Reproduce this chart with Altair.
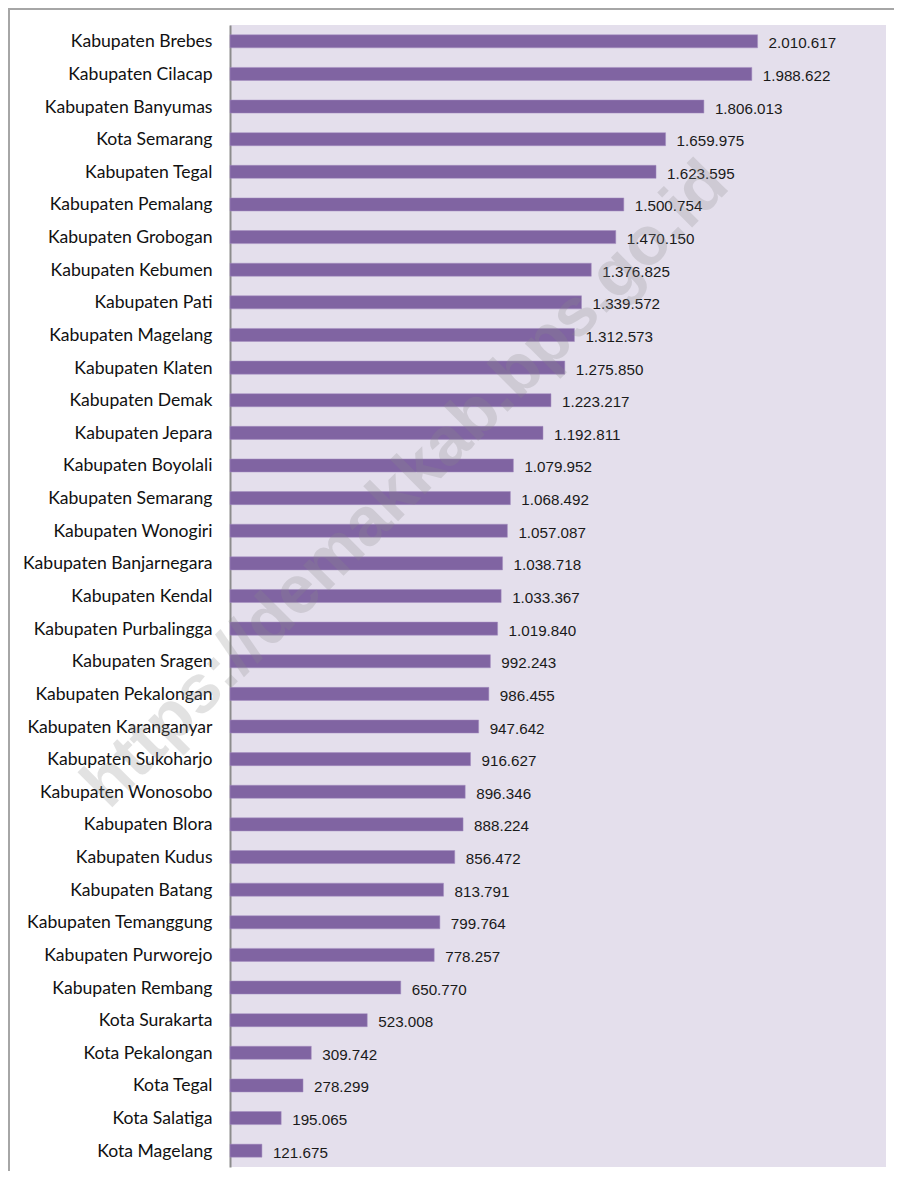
import altair as alt
import pandas as pd

regions = [
    "Kabupaten Brebes", "Kabupaten Cilacap", "Kabupaten Banyumas", "Kota Semarang",
    "Kabupaten Tegal", "Kabupaten Pemalang", "Kabupaten Grobogan", "Kabupaten Kebumen",
    "Kabupaten Pati", "Kabupaten Magelang", "Kabupaten Klaten", "Kabupaten Demak",
    "Kabupaten Jepara", "Kabupaten Boyolali", "Kabupaten Semarang", "Kabupaten Wonogiri",
    "Kabupaten Banjarnegara", "Kabupaten Kendal", "Kabupaten Purbalingga", "Kabupaten Sragen",
    "Kabupaten Pekalongan", "Kabupaten Karanganyar", "Kabupaten Sukoharjo", "Kabupaten Wonosobo",
    "Kabupaten Blora", "Kabupaten Kudus", "Kabupaten Batang", "Kabupaten Temanggung",
    "Kabupaten Purworejo", "Kabupaten Rembang", "Kota Surakarta", "Kota Pekalongan",
    "Kota Tegal", "Kota Salatiga", "Kota Magelang",
]
population = [
    2010617, 1988622, 1806013, 1659975,
    1623595, 1500754, 1470150, 1376825,
    1339572, 1312573, 1275850, 1223217,
    1192811, 1079952, 1068492, 1057087,
    1038718, 1033367, 1019840, 992243,
    986455, 947642, 916627, 896346,
    888224, 856472, 813791, 799764,
    778257, 650770, 523008, 309742,
    278299, 195065, 121675,
]
watermark = ["https://demakkab.bps.go.id"]

df = pd.DataFrame({"region": regions, "pop": population})
df["label"] = [f"{v:,}".replace(",", ".") for v in population]

W, H = 656, 1142

y_enc = alt.Y(
    "region:N", sort=regions, title=None,
    scale=alt.Scale(paddingInner=0.6, paddingOuter=0.3),
    axis=alt.Axis(
        domain=True, domainColor="#8c8c8c", domainWidth=2, ticks=False,
        labelFont="Lato", labelFontSize=17.6, labelColor="#111111",
        labelPadding=18, labelLimit=300, labelOffset=1,
    ),
)
x_enc = alt.X(
    "pop:Q", title=None,
    scale=alt.Scale(domain=[0, 2500000], nice=False),
    axis=None,
)

bars = alt.Chart(df).mark_bar(color="#8064A2", stroke="#a48fc0", strokeWidth=0.5).encode(
    x=x_enc, y=y_enc
)
labels = alt.Chart(df).mark_text(
    align="left", baseline="middle", dx=11, dy=2,
    font="Liberation Sans", fontSize=15.2, color="#1a1a1a",
).encode(x=x_enc, y=alt.Y("region:N", sort=regions), text="label:N")

wm = alt.Chart(pd.DataFrame({"t": watermark})).mark_text(
    align="center", baseline="middle", angle=315, font="Liberation Sans",
    fontWeight="bold", fontSize=68, color="#8a8a8a", opacity=0.24,
).encode(x=alt.value(176), y=alt.value(460), text="t:N")

frame_left = alt.Chart(pd.DataFrame({"a": [0]})).mark_rule(
    color="#a6a6a6", strokeWidth=2
).encode(x=alt.value(-221), y=alt.value(-17), y2=alt.value(H + 20))
frame_top = alt.Chart(pd.DataFrame({"a": [0]})).mark_rule(
    color="#a6a6a6", strokeWidth=2
).encode(y=alt.value(-16), x=alt.value(-222), x2=alt.value(W + 30))

chart = alt.layer(bars, labels, wm, frame_left, frame_top).properties(
    width=W, height=H,
    background="#ffffff",
    autosize=alt.AutoSizeParams(type="none"),
    padding={"left": 222, "top": 17, "right": 8, "bottom": 4},
).configure_view(fill="#E4DFEC", strokeWidth=0)

chart.save("out.html", embed_options={"renderer": "svg", "actions": False})
